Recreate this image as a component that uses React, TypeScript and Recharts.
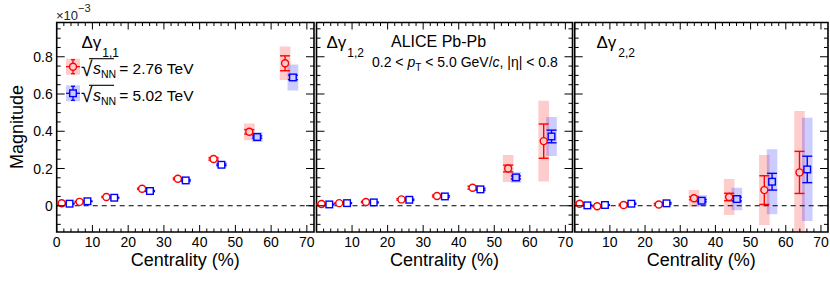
import React from "react";
import {
  ComposedChart,
  Scatter,
  XAxis,
  YAxis,
  ErrorBar,
  ReferenceArea,
  ReferenceLine,
} from "recharts";

// centrality bin centres (%)
const centrality = [2.5, 7.5, 15, 25, 35, 45, 55, 65];

// values in units of 1e-3
const g11At276 = [0.013, 0.021, 0.047, 0.091, 0.145, 0.251, 0.397, 0.765];
const g11At276Stat = [0.002, 0.002, 0.002, 0.003, 0.004, 0.006, 0.012, 0.04];
const g11At276Sys = [0.008, 0.008, 0.008, 0.01, 0.012, 0.015, 0.045, 0.09];
const g11At502 = [0.011, 0.024, 0.043, 0.079, 0.136, 0.22, 0.369, 0.689];
const g11At502Stat = [0.001, 0.001, 0.002, 0.002, 0.003, 0.004, 0.006, 0.012];
const g11At502Sys = [0.006, 0.007, 0.008, 0.01, 0.012, 0.015, 0.027, 0.07];

const g12At276 = [0.009, 0.014, 0.02, 0.034, 0.052, 0.097, 0.2, 0.347];
const g12At276Stat = [0.002, 0.002, 0.003, 0.004, 0.005, 0.008, 0.018, 0.092];
const g12At276Sys = [0.006, 0.006, 0.008, 0.01, 0.012, 0.012, 0.072, 0.217];
const g12At502 = [0.007, 0.014, 0.018, 0.032, 0.05, 0.088, 0.152, 0.372];
const g12At502Stat = [0.002, 0.002, 0.002, 0.003, 0.004, 0.005, 0.008, 0.034];
const g12At502Sys = [0.005, 0.006, 0.007, 0.008, 0.012, 0.012, 0.029, 0.105];

const g22At276 = [0.011, -0.003, 0.004, 0.007, 0.04, 0.047, 0.084, 0.179];
const g22At276Stat = [0.003, 0.003, 0.004, 0.005, 0.008, 0.02, 0.077, 0.113];
const g22At276Sys = [0.006, 0.006, 0.008, 0.012, 0.045, 0.097, 0.188, 0.33];
const g22At502 = [0.002, 0.004, 0.011, 0.013, 0.027, 0.036, 0.129, 0.195];
const g22At502Stat = [0.002, 0.002, 0.003, 0.004, 0.006, 0.01, 0.045, 0.071];
const g22At502Sys = [0.005, 0.005, 0.006, 0.01, 0.03, 0.06, 0.175, 0.277];

const xTicks = [
  0, 2, 4, 6, 8, 10, 12, 14, 16, 18, 20, 22, 24, 26, 28, 30, 32, 34, 36, 38,
  40, 42, 44, 46, 48, 50, 52, 54, 56, 58, 60, 62, 64, 66, 68, 70,
];
const yTicks = [
  -0.1, -0.05, 0, 0.05, 0.1, 0.15, 0.2, 0.25, 0.3, 0.35, 0.4, 0.45, 0.5, 0.55,
  0.6, 0.65, 0.7, 0.75, 0.8, 0.85, 0.9, 0.95,
];

const W = 830;
const H = 284;
const TOP = 22.5;
const BOTTOM = 232;
const X_DOMAIN: [number, number] = [0, 72];
const Y_DOMAIN: [number, number] = [-0.141, 0.984];
const SHIFT = 1.1; // horizontal offset of the two energies
const BOX_HALF = 1.5;
const FONT = "'Liberation Sans', Arial, Helvetica, sans-serif";
const RED = "#ff0000";
const BLUE = "#0000ff";
const RED_BOX = "#ffcccc";
const BLUE_BOX = "#ccccff";

const panels = [
  {
    left: 56.7, right: 314, firstLabel: true, yLabels: true,
    red: g11At276, redStat: g11At276Stat, redSys: g11At276Sys,
    blue: g11At502, blueStat: g11At502Stat, blueSys: g11At502Sys,
  },
  {
    left: 316.5, right: 572.5, firstLabel: false, yLabels: false,
    red: g12At276, redStat: g12At276Stat, redSys: g12At276Sys,
    blue: g12At502, blueStat: g12At502Stat, blueSys: g12At502Sys,
  },
  {
    left: 574.7, right: 828, firstLabel: false, yLabels: false,
    red: g22At276, redStat: g22At276Stat, redSys: g22At276Sys,
    blue: g22At502, blueStat: g22At502Stat, blueSys: g22At502Sys,
  },
];

const XTick = (props: any) => {
  const { x, y, payload, plotH, firstLabel } = props;
  const v = payload.value;
  const major = v % 10 === 0;
  const len = major ? 7 : 3.5;
  const showLabel = major && (v !== 0 || firstLabel);
  return (
    <g>
      <line x1={x} x2={x} y1={y} y2={y - len} stroke="#000" strokeWidth={1} />
      <line x1={x} x2={x} y1={y - plotH} y2={y - plotH + len} stroke="#000" strokeWidth={1} />
      {showLabel && (
        <text x={x} y={y + 15} textAnchor="middle" fontSize={14} fontFamily={FONT} fill="#000">
          {v}
        </text>
      )}
    </g>
  );
};

const YTick = (props: any) => {
  const { x, y, payload, plotW, showLabels } = props;
  const v = payload.value;
  const major = Math.abs(v * 5 - Math.round(v * 5)) < 1e-6;
  const len = major ? 8 : 4;
  return (
    <g>
      <line x1={x} x2={x + len} y1={y} y2={y} stroke="#000" strokeWidth={1} />
      <line x1={x + plotW} x2={x + plotW - len} y1={y} y2={y} stroke="#000" strokeWidth={1} />
      {showLabels && major && (
        <text x={x - 4} y={y} dy="0.36em" textAnchor="end" fontSize={14} fontFamily={FONT} fill="#000">
          {v === 0 ? "0" : v.toFixed(1)}
        </text>
      )}
    </g>
  );
};

const circleShape = (p: any) => (
  <circle
    cx={p.cx}
    cy={p.cy}
    r={3.5}
    fill={p.payload.sys >= 0.02 ? RED_BOX : "#fff"}
    stroke={RED}
    strokeWidth={1.4}
  />
);

const squareShape = (p: any) => (
  <rect
    x={p.cx - 3.3}
    y={p.cy - 3.3}
    width={6.6}
    height={6.6}
    fill={p.payload.sys >= 0.02 ? BLUE_BOX : "#fff"}
    stroke={BLUE}
    strokeWidth={1.4}
  />
);

const Panel = ({ cfg }: { cfg: (typeof panels)[number] }) => {
  const plotW = cfg.right - cfg.left;
  const plotH = BOTTOM - TOP;
  const redRows = centrality.map((c, i) => ({
    x: c - SHIFT, y: cfg.red[i], err: cfg.redStat[i], sys: cfg.redSys[i],
  }));
  const blueRows = centrality.map((c, i) => ({
    x: c + SHIFT, y: cfg.blue[i], err: cfg.blueStat[i], sys: cfg.blueSys[i],
  }));

  // axes are 1px thick (a 0px axis is not drawn), so margins give that pixel back
  return (
    <ComposedChart
      width={W}
      height={H}
      margin={{ top: TOP, bottom: H - BOTTOM - 1, left: cfg.left - 1, right: W - cfg.right }}
      style={{ position: "absolute", left: 0, top: 0 }}
    >
      <XAxis
        dataKey="x"
        type="number"
        domain={X_DOMAIN}
        allowDataOverflow
        ticks={xTicks}
        interval={0}
        height={1}
        tickSize={0}
        tickMargin={0}
        tickLine={false}
        axisLine={false}
        tick={(p: any) => <XTick {...p} plotH={plotH} firstLabel={cfg.firstLabel} />}
      />
      <YAxis
        dataKey="y"
        type="number"
        domain={Y_DOMAIN}
        allowDataOverflow
        ticks={yTicks}
        interval={0}
        width={1}
        tickSize={0}
        tickMargin={0}
        tickLine={false}
        axisLine={false}
        tick={(p: any) => <YTick {...p} plotW={plotW} showLabels={cfg.yLabels} />}
      />
      {redRows.map((r, i) => (
        <ReferenceArea
          key={"rs" + i}
          x1={r.x - BOX_HALF}
          x2={r.x + BOX_HALF}
          y1={r.y - r.sys}
          y2={r.y + r.sys}
          fill={RED}
          fillOpacity={0.2}
          stroke="none"
          ifOverflow="hidden"
        />
      ))}
      {blueRows.map((r, i) => (
        <ReferenceArea
          key={"bs" + i}
          x1={r.x - BOX_HALF}
          x2={r.x + BOX_HALF}
          y1={r.y - r.sys}
          y2={r.y + r.sys}
          fill={BLUE}
          fillOpacity={0.2}
          stroke="none"
          ifOverflow="hidden"
        />
      ))}
      <ReferenceLine y={0} stroke="#000" strokeWidth={1} strokeDasharray="5 4" />
      <Scatter data={redRows} shape={circleShape} isAnimationActive={false}>
        <ErrorBar dataKey="err" direction="y" width={5} stroke={RED} strokeWidth={1.4} />
      </Scatter>
      <Scatter data={blueRows} shape={squareShape} isAnimationActive={false}>
        <ErrorBar dataKey="err" direction="y" width={5} stroke={BLUE} strokeWidth={1.4} />
      </Scatter>
      <ReferenceArea
        x1={X_DOMAIN[0]}
        x2={X_DOMAIN[1]}
        y1={Y_DOMAIN[0]}
        y2={Y_DOMAIN[1]}
        fill="none"
        stroke="#000"
        strokeWidth={1.6}
        ifOverflow="visible"
      />
    </ComposedChart>
  );
};

const LegendRow = ({ y, color, box, square, energy }: any) => (
  <g>
    <rect x={66} y={y - 8} width={14} height={16} fill={box} />
    <line x1={66} x2={69.4} y1={y} y2={y} stroke={color} strokeWidth={1.3} />
    <line x1={76.6} x2={80} y1={y} y2={y} stroke={color} strokeWidth={1.3} />
    <line x1={73} x2={73} y1={y - 7} y2={y - 3.6} stroke={color} strokeWidth={1.3} />
    <line x1={73} x2={73} y1={y + 3.6} y2={y + 7} stroke={color} strokeWidth={1.3} />
    <line x1={71} x2={75} y1={y - 7} y2={y - 7} stroke={color} strokeWidth={1.3} />
    <line x1={71} x2={75} y1={y + 7} y2={y + 7} stroke={color} strokeWidth={1.3} />
    {square ? (
      <rect x={69.7} y={y - 3.3} width={6.6} height={6.6} fill={box} stroke={color} strokeWidth={1.4} />
    ) : (
      <circle cx={73} cy={y} r={3.5} fill={box} stroke={color} strokeWidth={1.4} />
    )}
    <line x1={89} x2={114} y1={y - 8} y2={y - 8} stroke="#000" strokeWidth={1.1} />
    <text x={81} y={y + 7.3} fontSize={15.5} fontFamily={FONT}>
      <tspan fontSize={21} dy={1.5}>√</tspan>
      <tspan fontSize={16} fontStyle="italic" dy={-1.5} dx={0.5}>s</tspan>
      <tspan fontSize={10.5} dy={4}>NN</tspan>
      <tspan dy={-4} dx={3}>= {energy} TeV</tspan>
    </text>
  </g>
);

const Annotations = () => (
  <svg
    width={W}
    height={H}
    style={{ position: "absolute", left: 0, top: 0, pointerEvents: "none" }}
    fontFamily={FONT}
  >
    <text x={56} y={20} fontSize={13} fill="#222">
      ×10
      <tspan fontSize={11} dy={-8}>−3</tspan>
    </text>
    <text x={0} y={0} fontSize={18} textAnchor="middle" transform="translate(23,127) rotate(-90)">
      Magnitude
    </text>
    {panels.map((p, i) => (
      <text key={i} x={(p.left + p.right) / 2} y={266} fontSize={18} textAnchor="middle">
        Centrality (%)
      </text>
    ))}
    <text x={81.5} y={47.5} fontSize={17}>
      Δγ<tspan fontSize={12} dx={1} dy={9}>1,1</tspan>
    </text>
    <text x={326.5} y={47.5} fontSize={17}>
      Δγ<tspan fontSize={12} dx={1} dy={9}>1,2</tspan>
    </text>
    <text x={596.5} y={47.5} fontSize={17}>
      Δγ<tspan fontSize={12} dx={2} dy={9}>2,2</tspan>
    </text>
    <text x={391} y={47} fontSize={16}>ALICE Pb-Pb</text>
    <text x={372} y={66.5} fontSize={14}>
      0.2 &lt; <tspan fontStyle="italic">p</tspan>
      <tspan fontSize={10} dy={4}>T</tspan>
      <tspan dy={-4}> &lt; 5.0 GeV/</tspan>
      <tspan fontStyle="italic">c</tspan>, |η| &lt; 0.8
    </text>
    <LegendRow y={66.7} color={RED} box={RED_BOX} square={false} energy="2.76" />
    <LegendRow y={93.3} color={BLUE} box={BLUE_BOX} square={true} energy="5.02" />
  </svg>
);

export default function App() {
  return (
    <div style={{ position: "absolute", left: 0, top: 0, width: W, height: H, background: "#fff" }}>
      {panels.map((p, i) => (
        <Panel key={i} cfg={p} />
      ))}
      <Annotations />
    </div>
  );
}
